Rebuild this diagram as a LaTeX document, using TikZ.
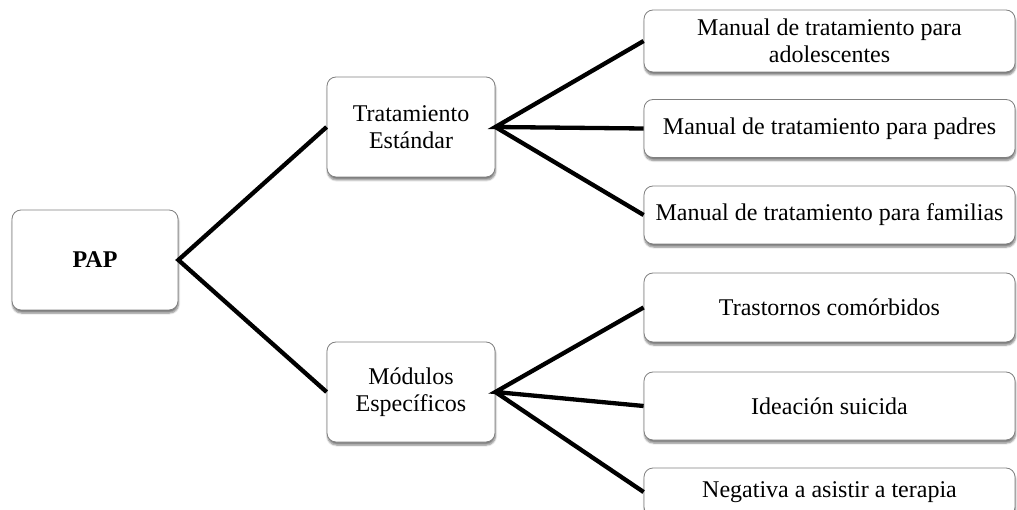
\documentclass[tikz,border=0pt]{standalone}
\usepackage{fontspec}
\setmainfont{Liberation Serif}
\usetikzlibrary{shadows.blur}
\begin{document}
\begin{tikzpicture}[x=1pt,y=-1pt,
  box/.style={draw=black!50, line width=0.8pt, rounded corners=9pt, fill=white,
    align=center, inner sep=2pt,
    font=\fontsize{24}{27}\selectfont,
    blur shadow={shadow xshift=0.5pt, shadow yshift=-3pt, shadow blur steps=6, shadow opacity=50}},
  leaf/.style={box, minimum width=371pt},
  mid/.style={box, minimum width=168pt, minimum height=100pt},
  link/.style={line width=4.3pt, black}]
\useasboundingbox (0,0) rectangle (1017,510);
% root
\node[box, minimum width=166pt, minimum height=100pt] (pap) at (95,260) {\textbf{PAP}};
% second level
\node[mid] (std) at (411,127) {Tratamiento\\Estándar};
\node[mid] (mod) at (411,392) {Módulos\\Específicos};
% leaves
\node[leaf, minimum height=62pt] (l1) at (829.5,41) {Manual de tratamiento para\\adolescentes};
\node[leaf, minimum height=58pt] (l2) at (829.5,128.5) {Manual de tratamiento para padres};
\node[leaf, minimum height=58pt] (l3) at (829.5,215) {Manual de tratamiento para familias};
\node[leaf, minimum height=69pt] (l4) at (829.5,307.5) {Trastornos comórbidos};
\node[leaf, minimum height=68pt] (l5) at (829.5,406) {Ideación suicida};
\node[leaf, minimum height=48pt] (l6) at (829.5,492) {Negativa a asistir a terapia};
% connectors
\draw[link] (std.west) -- (pap.east) -- (mod.west);
\draw[link] (l1.west) -- (std.east) -- (l2.west);
\draw[link] (std.east) -- (l3.west);
\draw[link] (l4.west) -- (mod.east) -- (l5.west);
\draw[link] (mod.east) -- (l6.west);
\end{tikzpicture}
\end{document}
